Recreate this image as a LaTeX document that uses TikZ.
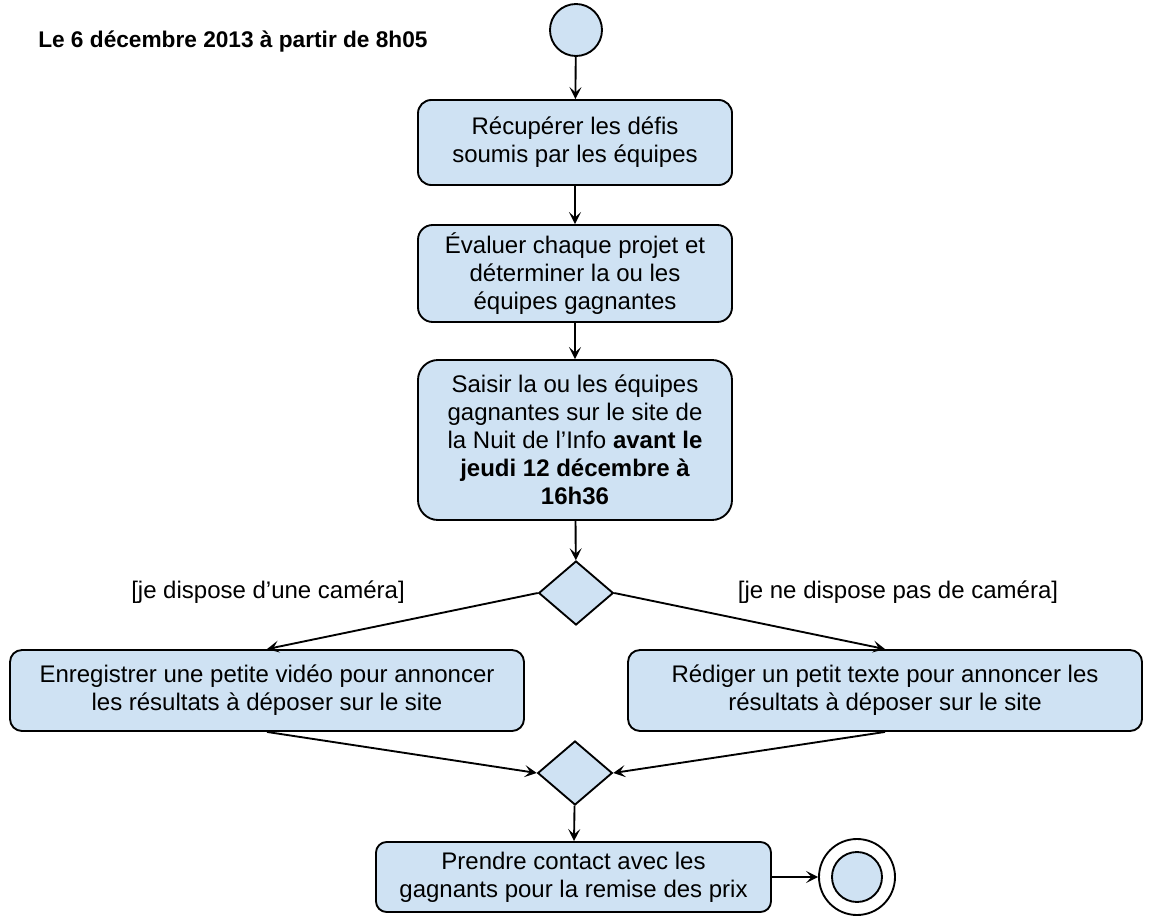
\documentclass[tikz,border=0pt]{standalone}
\usepackage{fontspec}
\setmainfont{Liberation Sans}
\usetikzlibrary{arrows.meta,shapes.geometric}
\definecolor{actblue}{HTML}{CFE2F3}
\tikzset{
	activity/.style={draw=black, fill=actblue, line width=1.4pt, rounded corners=#1, align=center, inner sep=0pt, font=\fontsize{18}{21}\selectfont},
	branch/.style={draw=black, fill=actblue, line width=1.4pt, diamond, inner sep=0pt, minimum width=56pt, minimum height=48pt},
	guard/.style={font=\fontsize{18}{21}\selectfont},
	flow/.style={line width=1.4pt, -{Stealth[length=9pt, width=9pt, inset=4pt]}}
}

\begin{document}
\begin{tikzpicture}[x=0.75pt, y=-0.75pt]
			%%%%% START %%%%%
			\useasboundingbox (0, 0) rectangle (1154, 917);
			
			\node[anchor=base west, inner sep=0pt, font=\fontsize{17}{20}\selectfont\bfseries] (titre) at (38, 48) {Le 6 décembre 2013 à partir de 8h05};
			
			\node[circle, draw=black, fill=actblue, line width=1.4pt, minimum size=39pt, inner sep=0pt] (debut) at (576, 30) {};
			
			\node[activity=10pt, minimum width=235.5pt, minimum height=63.75pt] (recup) at (575, 142.5) {Récupérer les défis\\soumis par les équipes};
			\node[activity=11pt, minimum width=235.5pt, minimum height=72.75pt] (evaluer) at (575, 273.5) {Évaluer chaque projet et\\déterminer la ou les\\équipes gagnantes};
			\node[activity=15pt, minimum width=235.5pt, minimum height=120pt] (saisir) at (575, 440) {Saisir la ou les équipes\\gagnantes sur le site de\\la Nuit de l’Info \textbf{avant le}\\\textbf{jeudi 12 décembre à}\\\textbf{16h36}};
			
			\node[branch] (choix) at (576, 593) {};
			\node[guard] (oui) at (268, 592) {[je dispose d’une caméra]};
			\node[guard] (non) at (898, 592) {[je ne dispose pas de caméra]};
			
			\node[activity=9pt, minimum width=385.5pt, minimum height=60.75pt] (video) at (267, 690.5) {Enregistrer une petite vidéo pour annoncer\\les résultats à déposer sur le site};
			\node[activity=9pt, minimum width=385.5pt, minimum height=60.75pt] (texte) at (885, 690.5) {Rédiger un petit texte pour annoncer les\\résultats à déposer sur le site};
			
			\node[branch] (fusion) at (575, 773) {};
			
			\node[activity=8pt, minimum width=296.25pt, minimum height=52.5pt] (contact) at (573.5, 877) {Prendre contact avec les\\gagnants pour la remise des prix};
			
			\node[circle, draw=black, fill=white, line width=1.4pt, minimum size=57pt, inner sep=0pt] (fin) at (857, 877) {};
			\node[circle, draw=black, fill=actblue, line width=1.4pt, minimum size=37.5pt, inner sep=0pt] (finint) at (fin) {};
			
			\draw[flow] (debut) -- (recup);
			\draw[flow] (recup) -- (evaluer);
			\draw[flow] (evaluer) -- (saisir);
			\draw[flow] (saisir) -- (choix);
			\draw[flow] (choix.west) -- (video.north);
			\draw[flow] (choix.east) -- (texte.north);
			\draw[flow] (video.south) -- (fusion.west);
			\draw[flow] (texte.south) -- (fusion.east);
			\draw[flow] (fusion) -- (contact);
			\draw[flow] (contact) -- (fin);
			
			%%%%% END %%%%%
\end{tikzpicture}
\end{document}
